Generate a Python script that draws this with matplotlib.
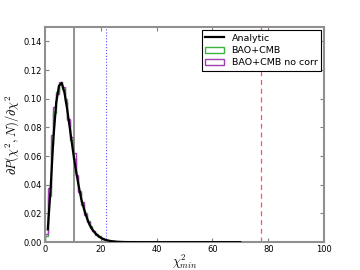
import matplotlib
matplotlib.use("Agg")
import matplotlib.pyplot as plt
from matplotlib.patches import Patch
from matplotlib.lines import Line2D
import numpy as np

plt.rcParams['mathtext.fontset'] = 'cm'
plt.rcParams['font.family'] = ['DejaVu Sans']

# Analytic curve
x_analytic = [1, 2, 3, 4, 5, 6, 7, 8, 9, 10, 11, 12, 13, 14, 15, 16, 17, 18, 19, 20,
              21, 22, 23, 24, 25, 26, 28, 30, 35, 40, 50, 60, 70]
y_analytic = [0.009, 0.037, 0.072, 0.097, 0.109, 0.111, 0.104, 0.092, 0.078, 0.064,
              0.051, 0.040, 0.030, 0.023, 0.017, 0.012, 0.0088, 0.0063, 0.0045, 0.0031,
              0.0021, 0.0015, 0.0010, 0.0007, 0.00045, 0.0003, 0.00013, 0.00006,
              0.000005, 0.0, 0.0, 0.0, 0.0]

# Histograms (bin edges 0..30, width 1)
bin_edges = list(range(0, 31))
h_bao_cmb = [0.004, 0.032, 0.068, 0.090, 0.105, 0.110, 0.107, 0.100, 0.085, 0.071,
             0.058, 0.046, 0.036, 0.026, 0.020, 0.015, 0.011, 0.0078, 0.0055, 0.0038,
             0.0026, 0.0018, 0.0012, 0.0008, 0.0005, 0.0003, 0.0002, 0.0001, 0.0001, 0.0]
h_bao_cmb_nocorr = [0.006, 0.038, 0.075, 0.094, 0.103, 0.112, 0.108, 0.098, 0.086, 0.073,
                    0.062, 0.047, 0.035, 0.028, 0.019, 0.014, 0.010, 0.0075, 0.0052, 0.0040,
                    0.0025, 0.0017, 0.0011, 0.0007, 0.0005, 0.0003, 0.0002, 0.0001, 0.0, 0.0]

labels = ['Analytic', 'BAO+CMB', 'BAO+CMB no corr']

# Vertical reference lines
vline_gray = 10.3
vline_blue = 22.0
vline_red = 77.5

green = '#3cb43c'
purple = '#a040b0'

fig = plt.figure(figsize=(3.6, 2.7), dpi=100)
ax = fig.add_axes([0.125, 0.103, 0.775, 0.797])

ax.plot(x_analytic, y_analytic, color='black', lw=1.6, zorder=5)
ax.stairs(h_bao_cmb, bin_edges, color=green, lw=1.0)
ax.stairs(h_bao_cmb_nocorr, bin_edges, color=purple, lw=1.0)

ax.axvline(vline_gray, color='#808080', lw=1.2)
ax.axvline(vline_blue, color='#5555ff', lw=0.8, ls=':')
ax.axvline(vline_red, color='#ff5555', lw=0.9, ls='--', dashes=(4, 3))

ax.set_xlim(0, 100)
ax.set_ylim(0, 0.15)
ax.set_xticks([0, 20, 40, 60, 80, 100])
ax.set_yticks([0.0, 0.02, 0.04, 0.06, 0.08, 0.10, 0.12, 0.14])
ax.yaxis.set_major_formatter(matplotlib.ticker.FormatStrFormatter('%.2f'))
ax.tick_params(direction='in', top=True, right=True, labelsize=6, length=3,
               color='#808080', width=0.8, pad=2)
for s in ax.spines.values():
    s.set_color('#909090')
    s.set_linewidth(1.5)

ax.set_xlabel(r'$\chi^2_{min}$', fontsize=9, labelpad=-1)
ax.set_ylabel(r'$\partial P(\chi^2,N)/\partial\chi^2$', fontsize=9, labelpad=2)

handles = [Line2D([0], [0], color='black', lw=1.6),
           Patch(facecolor='white', edgecolor=green, lw=1.0),
           Patch(facecolor='white', edgecolor=purple, lw=1.0)]
leg = ax.legend(handles, labels, loc='upper right', fontsize=6.8, fancybox=False,
                framealpha=1, edgecolor='black', borderpad=0.35, labelspacing=0.35,
                handlelength=2.0, handleheight=0.6, borderaxespad=0.35)
leg.get_frame().set_linewidth(0.8)

fig.savefig('out.png', dpi=100)
